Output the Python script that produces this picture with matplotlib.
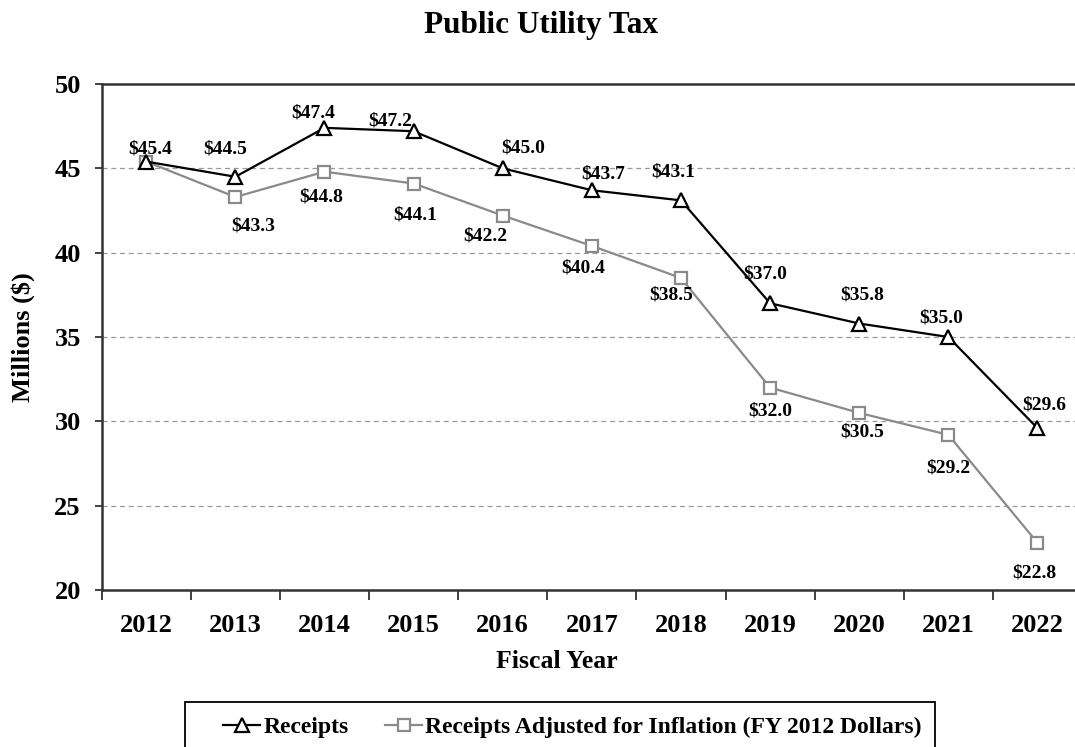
import matplotlib
matplotlib.use("Agg")
import matplotlib.pyplot as plt
from matplotlib.patches import Rectangle

plt.rcParams['font.family'] = ['Liberation Serif', 'DejaVu Serif']
plt.rcParams['font.weight'] = 'bold'

years = ['2012', '2013', '2014', '2015', '2016', '2017', '2018', '2019', '2020', '2021', '2022']
receipts = [45.4, 44.5, 47.4, 47.2, 45.0, 43.7, 43.1, 37.0, 35.8, 35.0, 29.6]
adjusted = [45.4, 43.3, 44.8, 44.1, 42.2, 40.4, 38.5, 32.0, 30.5, 29.2, 22.8]

# label offsets in pixels (x, y) - None means no label
rec_off = [(4, 13), (-10, 28), (-11, 15), (-23, 10), (20, 20), (11, 16),
           (-8, 28), (-5, 29), (3, 29), (-7, 19), (7, 23)]
adj_off = [None, (18, -29), (-3, -25), (2, -31), (-17, -20), (-9, -22),
           (-10, -17), (0, -23), (3, -19), (0, -33), (-3, -30)]

W, H = 1075, 747
fig = plt.figure(figsize=(W/100, H/100), dpi=100)
ax = fig.add_axes([101.7/W, 1-590/H, (1082-101.7)/W, (590-84)/H])

x = list(range(len(years)))
ax.plot(x, receipts, color='black', lw=1.6, marker='^', ms=9.5, mfc='white',
        mec='black', mew=1.6, label='Receipts', zorder=4)
ax.plot(x, adjusted, color='#8a8a8a', lw=1.6, marker='s', ms=9, mfc='white',
        mec='#8a8a8a', mew=1.6, label='Receipts Adjusted for Inflation (FY 2012 Dollars)', zorder=3)

for i, v in enumerate(receipts):
    ax.annotate(f'${v:.1f}', (x[i], v), xytext=rec_off[i], textcoords='offset pixels',
                ha='center', va='center', fontsize=14, fontweight='bold')
for i, v in enumerate(adjusted):
    if adj_off[i] is None:
        continue
    ax.annotate(f'${v:.1f}', (x[i], v), xytext=adj_off[i], textcoords='offset pixels',
                ha='center', va='center', fontsize=14, fontweight='bold')

ax.set_xlim(-0.5, len(years) - 0.5)
ax.set_ylim(20, 50)
ax.set_yticks([20, 25, 30, 35, 40, 45, 50])
for g in [25, 30, 35, 40, 45]:
    ax.axhline(g, color='#9a9a9a', lw=0.9, ls=(0, (4, 3)), zorder=1)

# ticks between categories, labels at the centres
ax.set_xticks([i - 0.5 for i in range(len(years) + 1)])
ax.set_xticklabels([])
ax.set_xticks(x, minor=True)
ax.set_xticklabels(years, minor=True, fontsize=19, fontweight='bold')
ax.tick_params(axis='x', which='major', direction='out', length=7, width=1.3, color='#333333')
ax.tick_params(axis='x', which='minor', length=0, pad=17)
ax.tick_params(axis='y', direction='out', length=5, width=1.3, color='#333333', pad=10,
               labelsize=19)
for t in ax.get_yticklabels():
    t.set_fontweight('bold')

for s in ['left', 'bottom', 'top']:
    ax.spines[s].set_linewidth(1.8)
    ax.spines[s].set_color('#333333')
ax.spines['right'].set_visible(False)

ax.set_ylabel('Millions ($)', fontsize=19, fontweight='bold', va='center')
ax.yaxis.set_label_coords(-(101.7-23)/(1082-101.7), 0.5)
ax.set_xlabel('Fiscal Year', fontsize=18.5, fontweight='bold', va='center')
ax.xaxis.set_label_coords((557-101.7)/(1082-101.7), -(662-590)/(590-84))

fig.text(541/W, 1-25/H, 'Public Utility Tax', ha='center', va='center',
         fontsize=22.5, fontweight='bold')

# legend box drawn separately so the entries can sit with a wide left margin
fig.patches.append(Rectangle((185/W, -0.05), (935-185)/W, 0.05 + 1-702/H,
                             transform=fig.transFigure, fill=False,
                             edgecolor='black', lw=1.3))
leg = fig.legend(loc='center left', bbox_to_anchor=(223/W, 1-727/H), ncol=2,
                 frameon=False, fontsize=17, handlelength=1.57, handletextpad=0.13,
                 columnspacing=1.55, borderpad=0, borderaxespad=0)

fig.savefig('out.png', dpi=100)
